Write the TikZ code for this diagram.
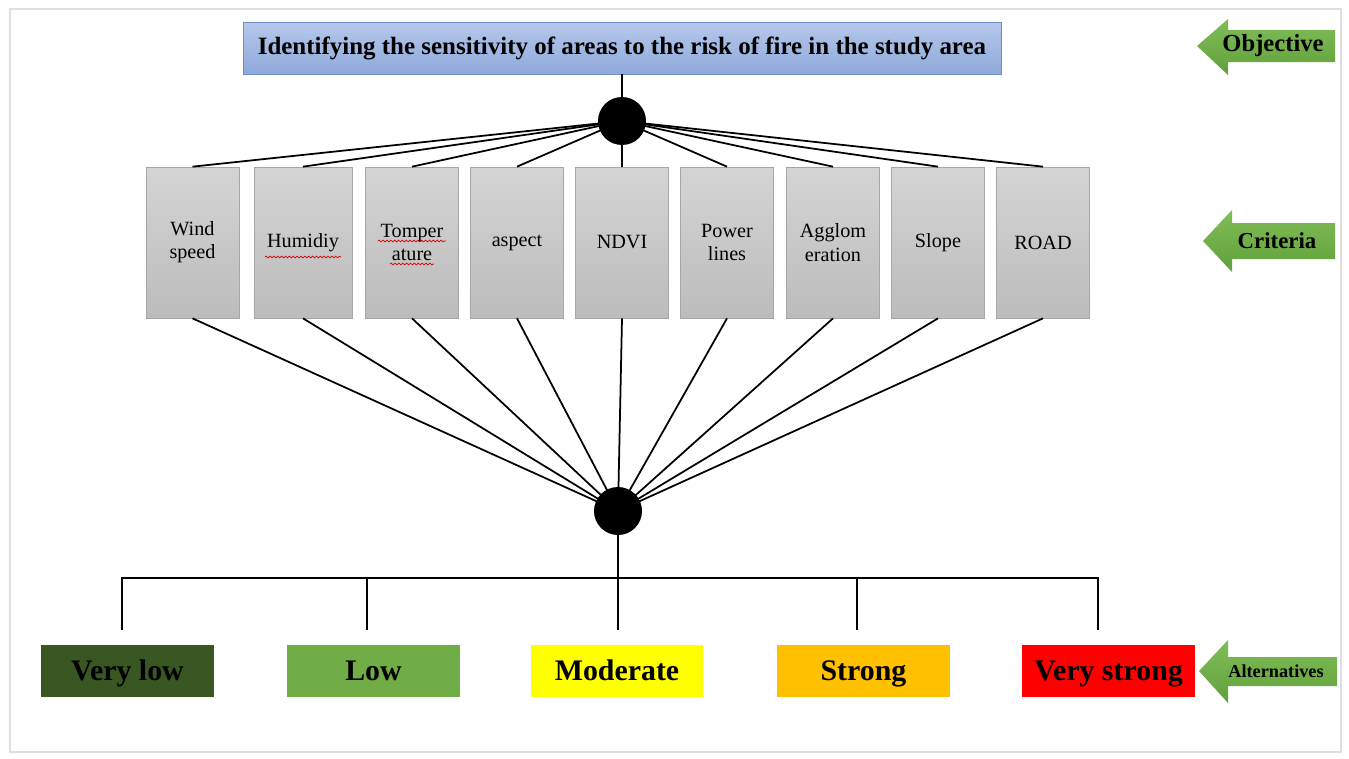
\documentclass[tikz,border=0pt]{standalone}
\usepackage{fontspec}
\setmainfont{Liberation Serif}
\usepackage{tikz}
\usetikzlibrary{positioning, calc, decorations.pathmorphing}

\definecolor{goaltop}{RGB}{182, 200, 234}
\definecolor{goalbottom}{RGB}{143, 169, 219}
\definecolor{goalborder}{RGB}{112, 140, 198}
\definecolor{crittop}{RGB}{212, 212, 212}
\definecolor{critbottom}{RGB}{188, 188, 188}
\definecolor{critborder}{RGB}{166, 166, 166}
\definecolor{arrowtop}{RGB}{128, 189, 88}
\definecolor{arrowbottom}{RGB}{96, 160, 58}
\definecolor{verylow}{RGB}{56, 87, 35}
\definecolor{low}{RGB}{112, 173, 71}
\definecolor{moderate}{RGB}{255, 255, 0}
\definecolor{strong}{RGB}{255, 192, 0}
\definecolor{verystrong}{RGB}{255, 0, 0}

\begin{document}
\begin{tikzpicture}[x=0.02cm, y=-0.02cm,
    goal/.style={draw=goalborder, rectangle, top color=goaltop, bottom color=goalbottom,
        minimum width=15.16cm, minimum height=1.04cm, font=\fontsize{14.2}{16}\selectfont\bfseries},
    crit/.style={draw=critborder, rectangle, top color=crittop, bottom color=critbottom,
        minimum width=1.86cm, minimum height=3.02cm, inner sep=1pt, align=center,
        font=\fontsize{11.5}{13.2}\selectfont},
    alt/.style={rectangle, minimum width=3.46cm, minimum height=1.04cm, inner sep=0pt,
        text height=11.2pt, text depth=0pt, font=\fontsize{17}{19}\selectfont\bfseries},
    hub/.style={circle, fill=black, minimum size=0.96cm, inner sep=0pt},
    link/.style={draw=black, line width=1pt},
    side/.style={top color=arrowtop, bottom color=arrowbottom, draw=none},
    spell/.style={draw=red!85!black, line width=0.4pt, decorate,
        decoration={snake, amplitude=0.5pt, segment length=2.2pt}}]

    % frame
    \useasboundingbox (0,0) rectangle (1349,758);
    \draw[gray!25, line width=0.6pt] (10,9) rectangle (1341,752);

    % Objective
    \node[goal] (goal) at (622,48) {Identifying the sensitivity of areas to the risk of fire in the study area};
    \node[hub] (hub1) at (622,121) {};
    \draw[link] (goal) -- (hub1);

    % Criteria nodes
    \node[crit] (wind) at (192.5,242.5) {Wind\\speed};
    \node[crit, minimum width=1.96cm] (humid) at (303,242.5) {Humidiy};
    \node[crit] (temp) at (412,242.5) {Tomper\\ature};
    \node[crit] (aspect) at (517,242.5) {aspect};
    \node[crit] (ndvi) at (622,242.5) {NDVI};
    \node[crit] (power) at (727,242.5) {Power\\lines};
    \node[crit] (agglo) at (833,242.5) {Agglom\\eration};
    \node[crit] (slope) at (938,242.5) {Slope};
    \node[crit] (road) at (1043,242.5) {ROAD};

    % spell-check marks
    \draw[spell] (265,257) -- (341,257);
    \draw[spell] (378,241) -- (446,241);
    \draw[spell] (390,264) -- (434,264);

    \node[hub] (hub2) at (618,511) {};

    % Edges
    \foreach \c in {wind, humid, temp, aspect, ndvi, power, agglo, slope, road} {
        \draw[link] (hub1.center) -- (\c.north);
        \draw[link] (\c.south) -- (hub2.center);
    }

    % Alternatives
    \node[alt, fill=verylow] (vlow) at (127.5,671) {Very low};
    \node[alt, fill=low] (low) at (373.5,671) {Low};
    \node[alt, fill=moderate] (mod) at (617,671) {Moderate};
    \node[alt, fill=strong] (str) at (863.5,671) {Strong};
    \node[alt, fill=verystrong] (vstr) at (1108.5,671) {Very strong};

    \coordinate (d1) at (122,630);
    \coordinate (d2) at (367,630);
    \coordinate (d3) at (618,630);
    \coordinate (d4) at (857,630);
    \coordinate (d5) at (1098,630);
    \coordinate (bus) at (618,578);
    \draw[link] (hub2.center) -- (d3);
    \draw[link] (d1) -- (d1 |- bus) -- (d5 |- bus) -- (d5);
    \draw[link] (d2) -- (d2 |- bus);
    \draw[link] (d4) -- (d4 |- bus);

    % Level arrows
    \path[side] (1197,46) -- (1228,19) -- (1228,30) -- (1335,30) -- (1335,62) -- (1228,62) -- (1228,75) -- cycle;
    \node[font=\fontsize{14}{16}\selectfont\bfseries] (objlab) at (1273,46) {Objective};
    \path[side] (1203,241) -- (1232,210) -- (1232,223) -- (1335,223) -- (1335,259) -- (1232,259) -- (1232,272) -- cycle;
    \node[font=\fontsize{13}{15}\selectfont\bfseries] (critlab) at (1277,241) {Criteria};
    \path[side] (1199,671) -- (1228,640) -- (1228,657) -- (1337,657) -- (1337,686) -- (1228,686) -- (1228,703) -- cycle;
    \node[font=\fontsize{10.4}{12}\selectfont\bfseries] (altlab) at (1276,671) {Alternatives};
\end{tikzpicture}
\end{document}
